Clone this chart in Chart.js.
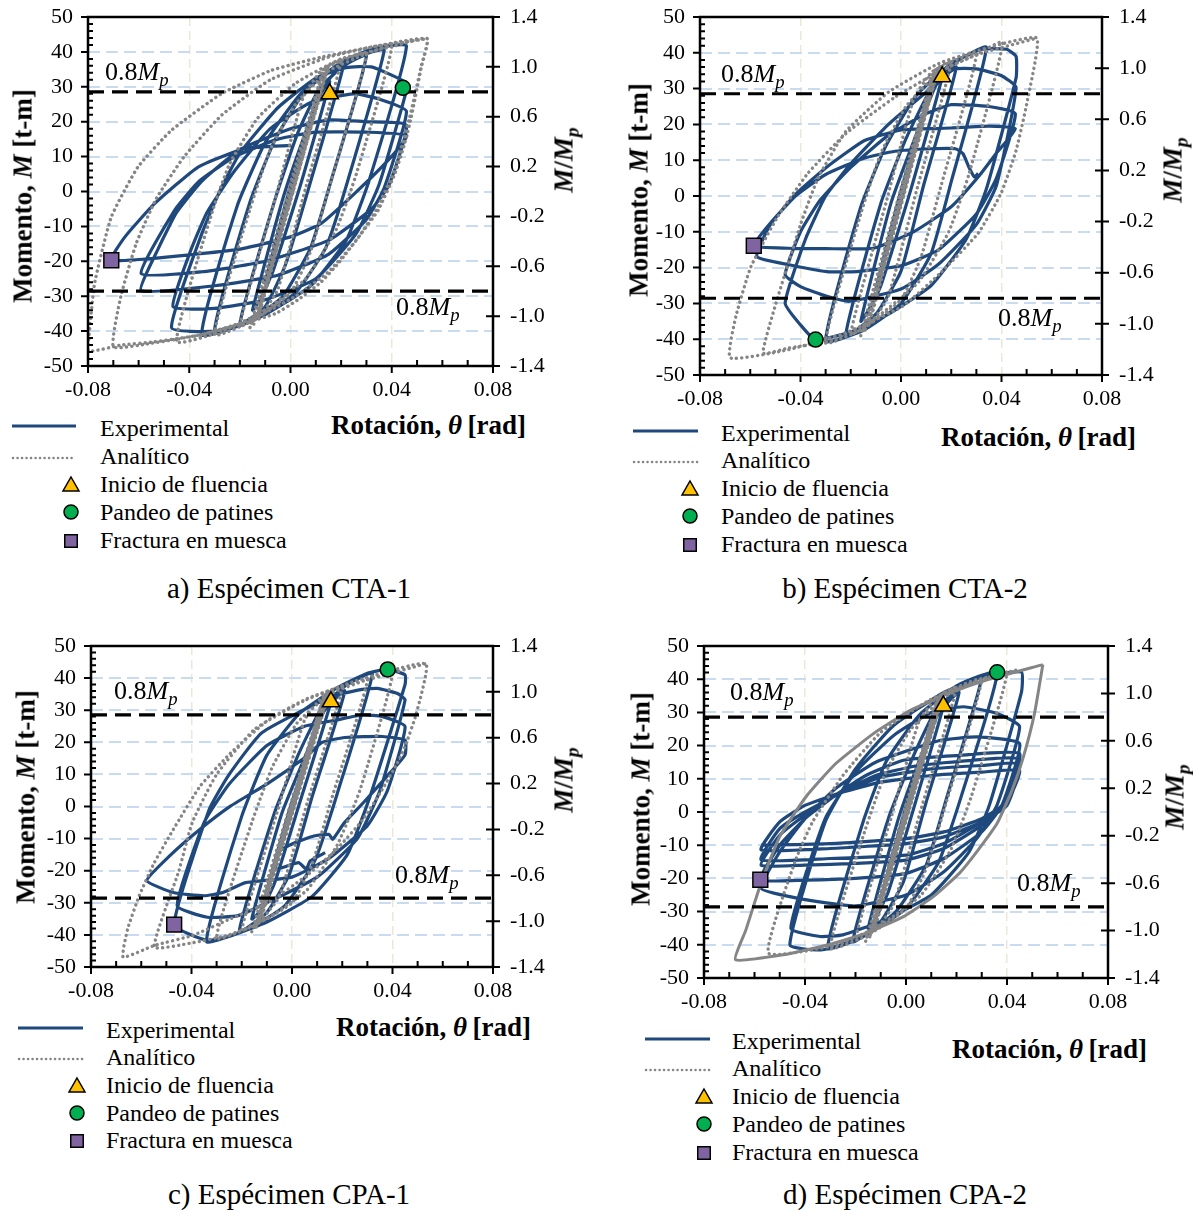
<!DOCTYPE html>
<html><head><meta charset="utf-8">
<script src="https://cdn.jsdelivr.net/npm/chart.js@4/dist/chart.umd.min.js"></script>
<style>
html,body{margin:0;padding:0;background:#fff}
body{width:1193px;height:1210px;position:relative;overflow:hidden;font-family:'Liberation Serif','Times New Roman',serif;color:#000}
canvas{position:absolute}
.t{position:absolute;white-space:nowrap;line-height:1}
.rot{position:absolute;white-space:nowrap;line-height:1;transform:translate(-50%,-50%) rotate(-90deg)}
.sub{font-size:0.72em;position:relative;top:0.3em}
svg{position:absolute;overflow:visible}
</style></head><body>
<script>
// ---------- tick values ----------
const xTicks = [-0.08, -0.04, 0, 0.04, 0.08];
const yTicks = [-50, -40, -30, -20, -10, 0, 10, 20, 30, 40, 50];
const y2Ticks = [-1.4, -1.0, -0.6, -0.2, 0.2, 0.6, 1.0, 1.4];
const Mp = 35.71;          // t-m  (50 t-m = 1.4 Mp)
const limitRatio = 0.8;    // 0.8 Mp
const limitX = [-0.08, 0.08];

// ---------- CTA-1 ----------
const expA = [[0,0],[0.005,13],[-0.005,-13],[0.0075,19.5],[-0.0075,-20],[0.01,26],[0.001,1],[-0.01,-26],[-0.001,-1],
[0.008,20],[0.012,28],[0.0155,31.5],[0.004,2],[-0.007,-23],[-0.012,-31],[-0.015,-34],[-0.003,-2],
[0.006,17],[0.013,30],[0.021,36.5],[0.008,3],[-0.002,-21],[-0.01,-33],[-0.02,-38],[-0.006,-2],
[0.003,17],[0.011,29],[0.02,35.5],[0.03,39],[0.016,3],[0.008,-16],[-0.003,-30],[-0.016,-37],[-0.03,-40],[-0.016,-3],
[-0.006,15],[0.006,29],[0.02,36.5],[0.03,39.5],[0.037,40.5],[0.023,4],[0.014,-16],[0.002,-29],[-0.015,-37],[-0.035,-41],[-0.021,-4],
[-0.01,14],[0.004,28],[0.02,37],[0.033,41],[0.0458,41.7],[0.031,3],[0.022,-14],[0.008,-27],[-0.012,-36],[-0.03,-40],[-0.047,-39],
[-0.035,-12],[-0.028,0],[-0.02,11],[-0.005,24],[0.01,32.5],[0.022,35.5],[0.032,35.7],[0.045,31.5],[0.0458,29],
[0.035,2],[0.026,-12],[0.01,-25],[-0.01,-31],[-0.03,-33.5],[-0.0464,-33],
[-0.04,-18],[-0.033,-6],[-0.022,6],[-0.008,18],[0.008,25.5],[0.025,28],[0.035,26.5],[0.0458,23],
[0.037,1],[0.03,-8],[0.015,-18],[-0.005,-24],[-0.03,-27],[-0.059,-28.4],
[-0.052,-16],[-0.045,-6],[-0.035,3],[-0.02,12],[0,18],[0.015,20.5],[0.03,20],[0.0458,19],
[0.039,2],[0.032,-5],[0.015,-14],[-0.01,-20],[-0.035,-23],[-0.059,-23.5],
[-0.0458,-5.4],[-0.036,3],[-0.022,10],[-0.005,15],[0.01,17],[0.03,17],[0.046,16],
[0.0385,8.9],[0.0253,-0.6],[0.012,-9.2],[0,-13],[-0.02,-16.5],[-0.045,-18.5],[-0.0708,-19.7],
[-0.0654,-13],[-0.0537,-3.5],[-0.0365,7],[-0.0181,12.3],[0.0003,13.2]];
const anaA = [[0,0],[0.0135,35],[-0.0135,-36.5],[0.015,36],[-0.016,-39],[0.0125,34],[-0.0145,-38],[0.0145,35.5],[-0.0125,-35.5],[0.0135,35],
[0.02,37.5],[0.006,1],[-0.005,-28],[-0.012,-35.5],[-0.02,-38.5],[-0.006,-2],[0.005,27],[0.012,34.5],[0.02,37.5],
[0.03,39.5],[0.016,3],[0.008,-17],[0,-29],[-0.015,-37],[-0.03,-41],[-0.016,-5],[-0.008,12],[0.002,25],[0.015,34.5],[0.03,39.5],
[0.04,41.5],[0.026,5],[0.018,-11],[0.006,-25],[-0.01,-34],[-0.027,-40],[-0.045,-43],[-0.031,-6],[-0.024,8],[-0.013,21],[0.002,31],[0.02,38],[0.04,41.5],
[0.054,43.8],[0.0517,36],[0.047,21],[0.041,6],[0.034,-5],[0.026,-14],[0.015,-23],[0.002,-30],[-0.015,-36.5],[-0.035,-41],[-0.055,-43.5],[-0.07,-44.5],
[-0.067,-30],[-0.061,-15],[-0.053,-2],[-0.042,10],[-0.027,22],[-0.008,32],[0.015,38.5],[0.035,41.8],[0.054,43.8],
[0.0517,35.7],[0.0477,21.3],[0.0451,13.7],[0.0412,5],[0.0346,-5.4],[0.028,-12],[0.019,-20.5],[0.012,-26],[0.003,-31],[-0.006,-35],[-0.021,-38.3],[-0.0365,-41.2],[-0.054,-43.1],[-0.067,-44],[-0.08,-45.5],
[-0.0774,-26.4],[-0.0708,-7.3],[-0.0603,7],[-0.0471,17.5],[-0.0273,28],[-0.0076,34.7],[0.0122,38.5],[0.032,41.4],[0.0543,43.8]];
const yieldA = [0.0155, 28.0], buckA = [0.0444, 29.7], fracA = [-0.0708, -19.7];

// ---------- CTA-2 ----------
const expB = [[0,0],[0.005,13],[-0.005,-13],[0.0075,19.5],[-0.0075,-20],[0.01,26],[0.001,1],[-0.01,-26],[-0.001,-1],
[0.008,20],[0.013,30],[0.0164,33.3],[0.004,2],[-0.008,-25],[-0.013,-32],[-0.016,-35],[-0.004,-2],
[0.006,17],[0.014,31],[0.022,36],[0.009,3],[0,-21],[-0.01,-33],[-0.022,-39],[-0.008,-2],
[0.002,16],[0.012,30],[0.022,37.5],[0.034,41.5],[0.02,4],[0.012,-16],[0,-30],[-0.015,-37.5],[-0.03,-40.5],[-0.016,-3],
[-0.006,14],[0.006,28],[0.02,37],[0.032,41],[0.042,41],[0.0458,39],[0.0458,33],
[0.034,2],[0.026,-12],[0.012,-25],[-0.005,-33],[-0.02,-38],[-0.034,-40.1],[-0.04,-36],[-0.0461,-29.9],
[-0.038,-12],[-0.03,0],[-0.02,9],[-0.005,20],[0.01,29],[0.021,35.4],[0.03,35.5],[0.04,33.6],[0.0458,30.3],
[0.038,3],[0.03,-8],[0.015,-19],[0,-26],[-0.0205,-29.4],[-0.0295,-28],[-0.04,-25.3],[-0.0461,-22],
[-0.04,-10],[-0.032,-1],[-0.02,8],[-0.005,17],[0.01,23],[0.02,25.5],[0.035,25],[0.0455,23],
[0.038,5],[0.03,-5],[0.015,-15],[0,-19.5],[-0.0175,-21.1],[-0.0295,-21.1],[-0.0446,-19.2],[-0.0574,-16.9],
[-0.052,-8],[-0.0416,0.7],[-0.0295,8.1],[-0.0145,15.5],[0.0006,18.5],[0.02,19],[0.035,19.5],[0.0455,18.8],
[0.038,12],[0.0307,5.3],[0.02,-3],[0.005,-10],[-0.011,-14.6],[-0.03,-14.7],[-0.045,-14.6],[-0.0586,-13.9],
[-0.052,-7.6],[-0.042,0],[-0.03,6],[-0.015,10.5],[-0.0024,12.5],[0.012,13.2],[0.0217,13.2],[0.0247,11.8],[0.027,8.1],[0.0292,5.3],[0.0307,6.3]];
const anaB = [[0,0],[0.0135,35],[-0.0135,-36.5],[0.015,36],[-0.016,-39],[0.0125,34],[-0.0145,-38],[0.0145,35.5],[-0.0125,-35.5],[0.0135,35],
[0.02,37.5],[0.006,1],[-0.005,-28],[-0.012,-35.5],[-0.02,-38.5],[-0.006,-2],[0.005,27],[0.012,34.5],[0.02,37.5],
[0.03,39.5],[0.016,3],[0.008,-17],[0,-29],[-0.015,-37],[-0.03,-41],[-0.016,-5],[-0.008,12],[0.002,25],[0.015,34.5],[0.03,39.5],
[0.0405,43],[0.027,6],[0.019,-10],[0.007,-24],[-0.01,-34],[-0.028,-40.5],[-0.045,-42.5],[-0.055,-43.8],
[-0.04,-8],[-0.033,5],[-0.022,18],[-0.005,29],[0.015,37],[0.035,41.5],[0.0541,44.1],
[0.0503,26.6],[0.0458,12.7],[0.0398,0.7],[0.0307,-10.4],[0.0157,-21.5],[0.0006,-30.8],[-0.022,-38.2],[-0.0446,-42.9],[-0.068,-45.2],
[-0.0657,-33.6],[-0.0597,-19.7],[-0.0491,-5.8],[-0.0371,6.3],[-0.022,17.4],[-0.0024,27.6],[0.0157,35],[0.0307,39.6],[0.0541,44.1]];
const yieldB = [0.0164, 33.3], buckB = [-0.034, -40.1], fracB = [-0.0586, -13.9];

// ---------- CPA-1 ----------
const expC = [[0,0],[0.005,13],[-0.005,-13],[0.0075,19.5],[-0.0075,-20],[0.01,26],[0.001,1],[-0.01,-26],[-0.001,-1],
[0.008,20],[0.012,29],[0.0155,32.6],[0.003,1],[-0.007,-24],[-0.012,-32],[-0.016,-35],[-0.004,-2],
[0.006,17],[0.013,30],[0.021,36],[0.008,3],[-0.001,-21],[-0.01,-33],[-0.021,-39],[-0.007,-2],
[0.003,17],[0.012,31],[0.022,38],[0.032,41.5],[0.018,4],[0.009,-17],[-0.003,-31],[-0.017,-38],[-0.034,-42],[-0.02,-3],
[-0.01,16],[0.003,29],[0.018,37],[0.03,41.5],[0.0381,42.7],[0.045,41],[0.045,38],
[0.031,3],[0.022,-15],[0.008,-28],[-0.01,-36],[-0.025,-40.5],[-0.034,-41.7],[-0.0469,-36.8],
[-0.033,-1],[-0.025,10],[-0.012,23],[0.0155,34.2],[0.028,36.5],[0.034,36.8],[0.042,35.2],[0.045,33.2],
[0.035,5],[0.026,-10],[0.01,-22],[-0.01,-30],[-0.0215,-34],[-0.0336,-34.5],[-0.0457,-30.9],
[-0.035,-5],[-0.025,7],[-0.01,19],[0.005,25],[0.018,27],[0.028,28.5],[0.036,28],[0.045,24.9],
[0.038,5],[0.03,-6],[0.015,-16],[0,-22],[-0.0185,-23.7],[-0.0275,-26.8],[-0.035,-27.8],[-0.0472,-26.8],[-0.0578,-23.1],
[-0.0487,-15.4],[-0.0366,-7.1],[-0.0245,0.1],[-0.0094,7.3],[0.0057,15.6],[0.012,20],[0.021,21.5],[0.036,21.8],[0.045,20.7],[0.045,16.1],
[0.0389,10.4],[0.0283,1.1],[0.0208,-5.1],[0.0162,-10.2],[0.0147,-8.7],[0.0087,-9.2],[0.0011,-11.3],[-0.005,-14],[-0.0064,-19.5],[0.0026,-17.5],[0.0057,-19.5],[0.0072,-17],[0.0132,-14.4]];
const anaC = [[0,0],[0.0135,35],[-0.0135,-36.5],[0.015,36],[-0.016,-39],[0.0125,34],[-0.0145,-38],[0.0145,35.5],[-0.0125,-35.5],[0.0135,35],
[0.02,37],[0.006,1],[-0.005,-28],[-0.012,-35],[-0.02,-38.5],[-0.006,-2],[0.005,27],[0.012,34],[0.02,37],
[0.03,39.5],[0.016,3],[0.008,-18],[0,-30],[-0.015,-37],[-0.03,-41],[-0.016,-5],[-0.008,12],[0.002,26],[0.015,35],[0.03,39.5],
[0.04,41.5],[0.027,5],[0.018,-12],[0.006,-26],[-0.01,-35],[-0.025,-40],[-0.04,-42.5],[-0.0548,-43.8],
[-0.045,-20],[-0.0397,-5],[-0.03,10],[-0.015,24],[0.005,33],[0.025,39],[0.0533,44.5],
[0.0495,29],[0.045,18.7],[0.0419,13.5],[0.0359,5.3],[0.0283,-4],[0.0178,-13.3],[0.0057,-21.6],[-0.0094,-29.9],[-0.0245,-35],[-0.0397,-40.2],[-0.0548,-43.3],[-0.0672,-46.9],
[-0.0654,-38.1],[-0.0608,-27.8],[-0.0548,-17.5],[-0.0472,-7.1],[-0.0366,6.3],[-0.0245,16.6],[-0.0094,27],[0.0057,33.5],[0.02,37.5],[0.035,40.5],[0.0533,44.5]];
const yieldC = [0.0155, 32.6], buckC = [0.0381, 42.7], fracC = [-0.0469, -36.8];

// ---------- CPA-2 ----------
const expD = [[0,0],[0.005,13],[-0.005,-13],[0.0075,19.5],[-0.0075,-20],[0.01,26],[0.001,1],[-0.01,-26],[-0.001,-1],
[0.008,20],[0.012,28.5],[0.0148,31.9],[0.003,1],[-0.007,-24],[-0.012,-32],[-0.015,-35],[-0.003,-2],
[0.006,17],[0.013,30],[0.021,36],[0.008,3],[-0.001,-21],[-0.01,-33],[-0.021,-39],[-0.007,-2],
[0.003,17],[0.012,31],[0.022,37.5],[0.03,40.5],[0.016,4],[0.008,-16],[-0.004,-30],[-0.017,-37.5],[-0.031,-41],[-0.017,-3],
[-0.008,15],[0.005,29],[0.02,38],[0.0361,42.1],[0.022,5],[0.013,-15],[0,-29],[-0.017,-37.5],[-0.033,-41.5],[-0.046,-40],
[-0.032,-3],[-0.02,13],[-0.005,26],[0.015,36],[0.03,40.5],[0.0457,42.2],[0.0457,36],
[0.033,2],[0.025,-12],[0.01,-25],[-0.01,-33],[-0.025,-37],[-0.034,-37.5],[-0.0456,-35],
[-0.032,-2],[-0.02,12],[-0.005,23],[0.01,30],[0.0227,31.7],[0.0361,29.7],[0.045,25.7],
[0.036,2],[0.028,-8],[0.015,-18],[0,-25],[-0.02,-28.3],[-0.035,-27],[-0.046,-25.5],[-0.0574,-23],
[-0.05,-12],[-0.04,-2],[-0.028,7],[-0.012,15],[0.0138,21.6],[0.0286,22.6],[0.045,20.6],
[0.038,2],[0.03,-6],[0.015,-14],[0,-18.5],[-0.02,-20],[-0.04,-20.5],[-0.0577,-20.4],
[-0.05,-10],[-0.04,-2],[-0.028,5],[-0.0159,11],[-0.001,15.6],[0.02,17],[0.045,17.6],
[0.04,4],[0.03,-4],[0.015,-11],[0,-14.5],[-0.02,-15.5],[-0.04,-16],[-0.0574,-16],
[-0.05,-7],[-0.04,-1],[-0.028,5],[-0.012,11],[0.005,14],[0.025,15.5],[0.045,16],
[0.04,3],[0.03,-3],[0.015,-9.5],[0,-13],[-0.03,-14],[-0.0574,-14.4],
[-0.05,-5],[-0.04,0],[-0.025,6],[-0.01,10.5],[0.01,13],[0.03,14],[0.045,14.5],
[0.04,2],[0.03,-3],[0.015,-7.5],[0,-9.5],[-0.03,-11],[-0.0574,-11.4],
[-0.05,-3],[-0.04,2],[-0.025,6],[-0.01,9],[0.01,11],[0.03,12],[0.045,12.5],
[0.04,3],[0.03,-2],[0.015,-6],[0,-8],[-0.03,-9.5],[-0.0574,-10]];
const anaD = [[0,0],[0.0135,35],[-0.0135,-36.5],[0.015,36],[-0.016,-39],[0.0125,34],[-0.0145,-38],[0.0145,35.5],[-0.0125,-35.5],[0.0135,35],
[0.02,37.5],[0.006,1],[-0.005,-28],[-0.012,-35.5],[-0.02,-38.5],[-0.006,-2],[0.005,27],[0.012,34.5],[0.02,37.5],
[0.03,40],[0.016,3],[0.008,-17],[0,-29],[-0.015,-37],[-0.03,-41],[-0.016,-5],[-0.008,12],[0.002,25],[0.015,34.5],[0.03,40],
[0.04,42],[0.026,5],[0.018,-11],[0.006,-25],[-0.01,-34],[-0.027,-40],[-0.0545,-42.5],[-0.044,-15],[-0.037,-3],[-0.025,11],[-0.01,24],[0.01,34],[0.03,40],[0.045,43]];
const outerD = [[0.0542,44.4],[0.0509,29.7],[0.0465,16.6],[0.042,6.6],[0.0361,-3.4],[0.0286,-11.4],[0.0212,-18.4],[0.0108,-25.5],[-0.001,-31.5],[-0.0159,-36.5],[-0.0307,-40],[-0.0485,-43],[-0.0675,-44.5],
[-0.0634,-35.5],[-0.0574,-21.4],[-0.05,-7.4],[-0.0396,4.6],[-0.0278,14.6],[-0.0129,23.6],[0.0019,30.7],[0.0168,35.7],[0.0316,39.7],[0.0542,44.4]];
const yieldD = [0.0148, 31.9], buckD = [0.0361, 42.1], fracD = [-0.0577, -20.4];

// ---------- texts ----------
const captions = ['a) Espécimen CTA-1','b) Espécimen CTA-2','c) Espécimen CPA-1','d) Espécimen CPA-2'];
const legendLabels = ['Experimental','Analítico','Inicio de fluencia','Pandeo de patines','Fractura en muesca'];

// ---------- layout ----------
const FONT = "'Liberation Serif','Times New Roman',serif";
const BLUE = '#1F497D', GRAY = '#858585';
const panels = [
 {exp:expA, ana:anaA, outer:null, yld:yieldA, bck:buckA, frc:fracA, cap:captions[0],
  cv:{l:0,t:0,w:600,h:400}, area:{l:88,r:493,t:17,b:366},
  ytitle:{x:23,y:196}, y2title:{x:564,y:160}, xtitle:{x:331,y:425},
  lbl1:{x:105,y:72}, lbl2:{x:396,y:307},
  leg:{l1:12,l2:76,m:71,tx:100,ys:[428,456,484,512,540]}, capPos:{x:289,y:588}},
 {exp:expB, ana:anaB, outer:null, yld:yieldB, bck:buckB, frc:fracB, cap:captions[1],
  cv:{l:600,t:0,w:593,h:410}, area:{l:700,r:1102,t:17,b:375},
  ytitle:{x:639,y:190}, y2title:{x:1173,y:170}, xtitle:{x:941,y:437},
  lbl1:{x:721,y:74}, lbl2:{x:998,y:318},
  leg:{l1:633,l2:698,m:690,tx:721,ys:[433,460,488,516,544]}, capPos:{x:905,y:588}},
 {exp:expC, ana:anaC, outer:null, yld:yieldC, bck:buckC, frc:fracC, cap:captions[2],
  cv:{l:0,t:625,w:600,h:380}, area:{l:91,r:493,t:646,b:967},
  ytitle:{x:26,y:797}, y2title:{x:564,y:780}, xtitle:{x:336,y:1027},
  lbl1:{x:114,y:691}, lbl2:{x:395,y:875},
  leg:{l1:18,l2:83,m:77,tx:106,ys:[1030,1057,1085,1113,1140]}, capPos:{x:289,y:1194}},
 {exp:expD, ana:anaD, outer:outerD, yld:yieldD, bck:buckD, frc:fracD, cap:captions[3],
  cv:{l:600,t:625,w:593,h:390}, area:{l:704,r:1108,t:646,b:978},
  ytitle:{x:641,y:799}, y2title:{x:1175,y:797}, xtitle:{x:952,y:1049},
  lbl1:{x:730,y:692}, lbl2:{x:1017,y:883},
  leg:{l1:645,l2:710,m:704,tx:732,ys:[1041,1068,1096,1124,1152]}, capPos:{x:905,y:1194}}
];

function addDiv(cls, html, x, y, size, extra){
  const d=document.createElement('div'); d.className=cls; d.innerHTML=html;
  d.style.left=x+'px'; d.style.top=y+'px'; d.style.fontSize=size+'px';
  if(extra) Object.assign(d.style, extra);
  document.body.appendChild(d); return d;
}
function addSvg(x,y,w,h,inner){
  const ns='http://www.w3.org/2000/svg';
  const s=document.createElementNS(ns,'svg');
  s.setAttribute('width',w); s.setAttribute('height',h);
  s.style.left=x+'px'; s.style.top=y+'px';
  s.innerHTML=inner; document.body.appendChild(s);
}
const toPts = a => a.map(q => ({x:q[0], y:q[1]}));
const noPad = s => { s.paddingTop=0; s.paddingBottom=0; s.paddingLeft=0; s.paddingRight=0; };

const framePlugin = {
  id:'frame',
  afterDraw(chart){
    const {ctx, chartArea:a, scales} = chart;
    ctx.save(); ctx.setLineDash([]); ctx.strokeStyle='#000';
    ctx.lineWidth=2.5; ctx.strokeRect(a.left, a.top, a.right-a.left, a.bottom-a.top);
    ctx.lineWidth=2; ctx.beginPath();
    for(const v of yTicks){ const y=scales.y.getPixelForValue(v); ctx.moveTo(a.left-7,y); ctx.lineTo(a.left+1,y); }
    for(let v=-48; v<50; v+=2){ if(v%10===0) continue; const y=scales.y.getPixelForValue(v); ctx.moveTo(a.left,y); ctx.lineTo(a.left+5,y); }
    for(const v of xTicks){ const x=scales.x.getPixelForValue(v); ctx.moveTo(x,a.bottom-1); ctx.lineTo(x,a.bottom+7); }
    for(let i=-7;i<=7;i++){ if(i%4===0) continue; const x=scales.x.getPixelForValue(i*0.01); ctx.moveTo(x,a.bottom-6); ctx.lineTo(x,a.bottom); }
    for(const v of y2Ticks){ const y=scales.y2.getPixelForValue(v); ctx.moveTo(a.right-7,y); ctx.lineTo(a.right+7,y); }
    ctx.stroke(); ctx.restore();
  }
};

panels.forEach(p=>{
  const cv=document.createElement('canvas');
  cv.width=p.cv.w; cv.height=p.cv.h;
  Object.assign(cv.style,{left:p.cv.l+'px',top:p.cv.t+'px',width:p.cv.w+'px',height:p.cv.h+'px'});
  document.body.appendChild(cv);
  const yw=p.area.l-p.cv.l, y2w=p.cv.l+p.cv.w-p.area.r, xh=p.cv.t+p.cv.h-p.area.b, pt=p.area.t-p.cv.t;
  const tickFont={family:FONT,size:22};
  const ds=[
    {data:[{x:p.yld[0],y:p.yld[1]}], showLine:false, pointStyle:'triangle', pointRadius:10, pointBackgroundColor:'#FFC000', pointBorderColor:'#000', pointBorderWidth:1.5, order:0},
    {data:[{x:p.bck[0],y:p.bck[1]}], showLine:false, pointStyle:'circle', pointRadius:7.5, pointBackgroundColor:'#00B050', pointBorderColor:'#000', pointBorderWidth:1.5, order:0},
    {data:[{x:p.frc[0],y:p.frc[1]}], showLine:false, pointStyle:'rect', pointRadius:10.5, pointBackgroundColor:'#8064A2', pointBorderColor:'#000', pointBorderWidth:1.5, order:0},
    {data:limitX.map(x=>({x, y:limitRatio*Mp})), showLine:true, borderColor:'#000', borderWidth:3.2, borderDash:[16,8], pointRadius:0, order:1},
    {data:limitX.map(x=>({x, y:-limitRatio*Mp})), showLine:true, borderColor:'#000', borderWidth:3.2, borderDash:[16,8], pointRadius:0, order:1},
    {data:toPts(p.ana), showLine:true, borderColor:GRAY, borderWidth:3.4, borderDash:[0.1,5.2], borderCapStyle:'round', pointRadius:0, tension:0.15, order:2},
    {data:toPts(p.exp), showLine:true, borderColor:BLUE, borderWidth:3.2, pointRadius:0, tension:0.15, order:4}
  ];
  if(p.outer) ds.push({data:toPts(p.outer), showLine:true, borderColor:GRAY, borderWidth:3, pointRadius:0, tension:0.15, order:2});
  new Chart(cv,{
    type:'scatter',
    data:{datasets:ds},
    plugins:[framePlugin],
    options:{
      responsive:false, animation:false, devicePixelRatio:1,
      layout:{padding:{top:pt,left:0,right:0,bottom:0}},
      plugins:{legend:{display:false}, tooltip:{enabled:false}},
      elements:{line:{borderJoinStyle:'round'}},
      scales:{
        x:{type:'linear', position:'bottom', min:-0.08, max:0.08,
           afterBuildTicks:s=>{ s.ticks=xTicks.map(v=>({value:v})); },
           afterFit:s=>{ s.height=xh; noPad(s); },
           ticks:{font:tickFont, color:'#000', padding:11, maxRotation:0, autoSkip:false, callback:v=>Number(v).toFixed(2)},
           grid:{drawTicks:false, lineWidth:1.5, color:c=>(c.tick && Math.abs(c.tick.value)<0.07)?'#ECE7D6':'rgba(0,0,0,0)'},
           border:{display:false, dash:[9,5]}},
        y:{type:'linear', position:'left', min:-50, max:50,
           afterBuildTicks:s=>{ s.ticks=yTicks.map(v=>({value:v})); },
           afterFit:s=>{ s.width=yw; noPad(s); },
           ticks:{font:tickFont, color:'#000', padding:15, autoSkip:false, callback:v=>String(v)},
           grid:{drawTicks:false, lineWidth:2, color:c=>(c.tick && Math.abs(c.tick.value)<45)?'#C9DBF0':'rgba(0,0,0,0)'},
           border:{display:false, dash:[12,6]}},
        y2:{type:'linear', position:'right', min:-1.4, max:1.4,
           afterBuildTicks:s=>{ s.ticks=y2Ticks.map(v=>({value:v})); },
           afterFit:s=>{ s.width=y2w; noPad(s); },
           ticks:{font:tickFont, color:'#000', padding:17, autoSkip:false, callback:v=>Number(v).toFixed(1)},
           grid:{display:false, drawTicks:false},
           border:{display:false}}
      }
    }
  });

  // axis titles
  addDiv('rot','<b>Momento, <i>M</i> [t-m]</b>', p.ytitle.x, p.ytitle.y, 27);
  addDiv('rot','<b><i>M</i>/<i>M<span class="sub">p</span></i></b>', p.y2title.x, p.y2title.y, 27);
  addDiv('t','<b>Rotación, <i>θ</i>&thinsp;[rad]</b>', p.xtitle.x, p.xtitle.y-13, 27);
  // 0.8Mp labels
  const lab='0.8<i>M<span class="sub">p</span></i>';
  addDiv('t',lab,p.lbl1.x,p.lbl1.y-13,26);
  addDiv('t',lab,p.lbl2.x,p.lbl2.y-13,26);
  // legend
  const L=p.leg;
  addSvg(L.l1, L.ys[0]-5, L.l2-L.l1, 6, `<line x1="0" y1="3" x2="${L.l2-L.l1}" y2="3" stroke="${BLUE}" stroke-width="3"/>`);
  addSvg(L.l1, L.ys[1]-1, L.l2-L.l1, 6, `<line x1="1" y1="3" x2="${L.l2-L.l1}" y2="3" stroke="${GRAY}" stroke-width="2.5" stroke-dasharray="0.1 4.4" stroke-linecap="round"/>`);
  addSvg(L.m-9, L.ys[2]-8, 18, 16, `<polygon points="9,1 17,15 1,15" fill="#FFC000" stroke="#000" stroke-width="1.5"/>`);
  addSvg(L.m-8, L.ys[3]-8, 16, 16, `<circle cx="8" cy="8" r="7" fill="#00B050" stroke="#000" stroke-width="1.5"/>`);
  addSvg(L.m-7, L.ys[4]-6, 14, 14, `<rect x="0.75" y="0.75" width="12.5" height="12.5" fill="#8064A2" stroke="#000" stroke-width="1.5"/>`);
  legendLabels.forEach((t,i)=>addDiv('t',t,L.tx,L.ys[i]-12,24));
  // caption
  addDiv('t',p.cap,p.capPos.x,p.capPos.y-14,29,{transform:'translateX(-50%)'});
});
</script>
</body></html>
